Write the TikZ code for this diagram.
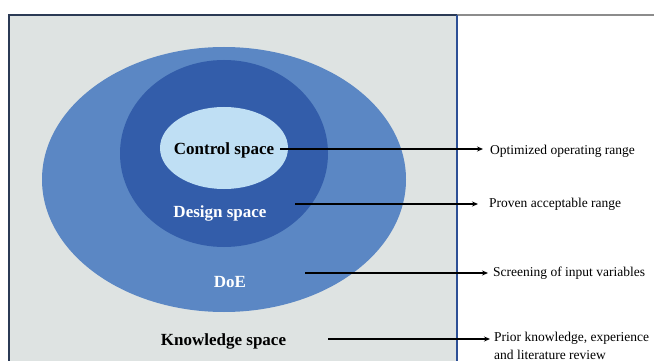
\documentclass[tikz,border=0pt]{standalone}
\usepackage{fontspec}
\setmainfont{Liberation Serif}
\usetikzlibrary{positioning, calc, arrows.meta, shapes.geometric}
\definecolor{spacegray}{RGB}{222, 227, 226}
\definecolor{doeblue}{RGB}{91, 135, 196}
\definecolor{designblue}{RGB}{51, 93, 170}
\definecolor{controlblue}{RGB}{191, 223, 244}
\definecolor{frameblue}{RGB}{45, 80, 150}
\definecolor{framenavy}{RGB}{43, 58, 85}
\tikzset{
    spacenode/.style={
        ellipse, inner sep=0pt, draw=none
    },
    spacelabel/.style={
        font=\bfseries\fontsize{17}{20}\selectfont, inner sep=0pt, anchor=base
    },
    rangelabel/.style={
        font=\fontsize{13.5}{18}\selectfont, inner sep=0pt, anchor=base west, align=left
    },
    ptr/.style={
        -{Stealth[length=6pt, width=5pt]}, line width=1.1pt, black
    }
}

\begin{document}
\begin{tikzpicture}[x=1pt, y=-1pt]
        \useasboundingbox (0,0) rectangle (654,361);

        % ======================================
        % KHUNG NỀN (KNOWLEDGE SPACE)
        % ======================================
        \fill[spacegray] (9,15) rectangle (457,361);
        \draw[framenavy, line width=1.2pt] (9,361) -- (9,15) -- (457,15);
        \draw[black!45, line width=1.2pt] (457,15) -- (654,15);
        \draw[frameblue, line width=1.2pt] (457,15) -- (457,361);

        % ======================================
        % CÁC ELLIPSE LỒNG NHAU
        % ======================================
        \node[spacenode, fill=doeblue, minimum width=364pt, minimum height=265pt] (doe) at (224,179.5) {};
        \node[spacenode, fill=designblue, minimum width=208pt, minimum height=187pt] (design) at (224,153.5) {};
        \node[spacenode, fill=controlblue, minimum width=128pt, minimum height=82pt] (control) at (224,148) {};

        % Nhãn các không gian
        \node[spacelabel] (ctrllabel) at (224,154) {Control space};
        \node[spacelabel, text=white] (designlabel) at (220,217) {Design space};
        \node[spacelabel, text=white] (doelabel) at (230,287) {DoE};
        \node[spacelabel] (knowlabel) at (223.5,345) {Knowledge space};

        % ======================================
        % NHÃN BÊN PHẢI
        % ======================================
        \node[rangelabel] (optrange) at (490,154) {Optimized operating range};
        \node[rangelabel] (provrange) at (489,207) {Proven acceptable range};
        \node[rangelabel] (screenrange) at (493,276) {Screening of input variables};
        \node[rangelabel] (priorrange) at (494,359.5) {Prior knowledge, experience\\and literature review};

        % Điểm đầu mũi tên
        \coordinate (cstart) at (280,149);
        \coordinate (dstart) at (295,204);
        \coordinate (estart) at (305,273);
        \coordinate (kstart) at (328,339);

        \draw[ptr, shorten >=7pt] (cstart) -- (cstart -| optrange.west);
        \draw[ptr, shorten >=11pt] (dstart) -- (dstart -| provrange.west);
        \draw[ptr, shorten >=5pt] (estart) -- (estart -| screenrange.west);
        \draw[ptr, shorten >=4pt] (kstart) -- (kstart -| priorrange.west);

    \end{tikzpicture}
\end{document}
